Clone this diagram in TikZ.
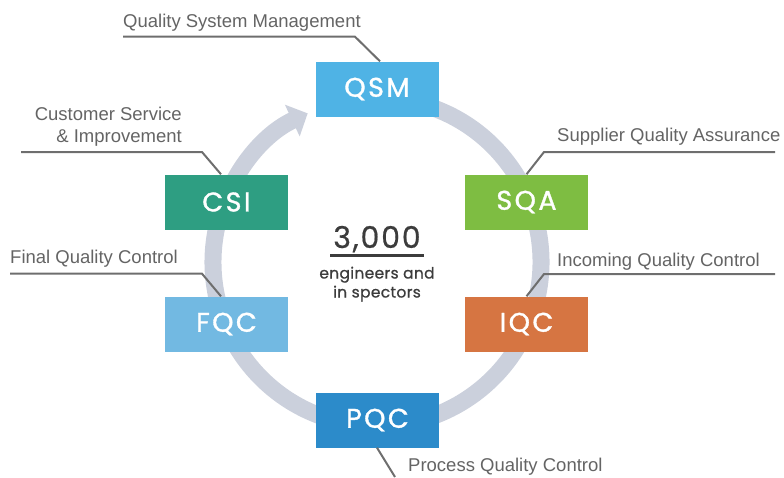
\documentclass[tikz,border=0pt]{standalone}
\usepackage{fontspec}
\setmainfont{Liberation Sans}
\newfontfamily\boxfont[LetterSpace=9,FakeBold=1.2]{Poppins}
\newfontfamily\numfont[LetterSpace=6,FakeBold=0.6]{Poppins}
\newfontfamily\subfont[LetterSpace=2,FakeBold=0.8]{Poppins}
\usetikzlibrary{arrows.meta}
\definecolor{cQSM}{HTML}{4FB3E5}
\definecolor{cCSI}{HTML}{2E9E82}
\definecolor{cSQA}{HTML}{7EBD42}
\definecolor{cIQC}{HTML}{D67542}
\definecolor{cFQC}{HTML}{72B9E2}
\definecolor{cPQC}{HTML}{2C8BCA}
\definecolor{ring}{HTML}{CBD0DC}
\definecolor{leader}{HTML}{6E6E6E}
\definecolor{labelgray}{HTML}{646464}
\definecolor{dark}{HTML}{3C3C3C}
\tikzset{
  box/.style={minimum width=123pt, minimum height=55pt, inner sep=0pt, text=white,
    font=\boxfont\fontsize{27}{27}\selectfont},
  leaderline/.style={draw=leader, line width=2pt},
  lbl/.style={text=labelgray, inner sep=0pt, font=\fontsize{18.5}{22}\selectfont},
  subtxt/.style={text=dark, inner sep=0pt, anchor=base, font=\subfont\fontsize{15.5}{19}\selectfont},
}
\begin{document}
\begin{tikzpicture}[x=1pt,y=-1pt]
\useasboundingbox (0,0) rectangle (784,477);
% ring with arrow
\draw[ring, line width=17pt, -{Triangle[width=34pt,length=17pt]}]
  ([shift={(80:164pt)}]377,262) arc[start angle=80, end angle=-245, radius=164pt];
% boxes
\node[box, fill=cQSM] (qsm) at (377,89) {QSM};
\node[box, fill=cCSI] (csi) at (226.5,202) {CSI};
\node[box, fill=cSQA] (sqa) at (526.5,202) {SQA};
\node[box, fill=cFQC] (fqc) at (226.5,324) {FQC};
\node[box, fill=cIQC] (iqc) at (526.5,324) {IQC};
\node[box, fill=cPQC] (pqc) at (377.5,420) {PQC};
% center text
\node[text=dark, inner sep=0pt, font=\numfont\fontsize{30}{30}\selectfont, anchor=base] (num) at (377,248) {3,000};
\draw[dark, line width=2.5pt] (330,255.5) -- (424,255.5);
\node[subtxt] (sub1) at (377,278.5) {engineers and};
\node[subtxt] (sub2) at (377,297.5) {in spectors};
% labels
\node[lbl, anchor=base west] (tqsm) at (123,27) {Quality System Management};
\node[lbl, anchor=base east] (tcsi1) at (182,120) {Customer Service};
\node[lbl, anchor=base east] (tcsi2) at (182,142) {\& Improvement};
\node[lbl, anchor=base west] (tfqc) at (10,263) {Final Quality Control};
\node[lbl, anchor=base west] (tsqa) at (557,141) {Supplier Quality Assurance};
\node[lbl, anchor=base west] (tiqc) at (557,266) {Incoming Quality Control};
\node[lbl, anchor=base west] (tpqc) at (408,471.5) {Process Quality Control};
% leader lines
\coordinate (eqsm) at (123,36.7);
\coordinate (ecsi) at (21,152);
\coordinate (efqc) at (10,273.7);
\coordinate (esqa) at (775,152);
\coordinate (eiqc) at (775,274);
\coordinate (epqc) at (395,477);
\draw[leaderline] ([xshift=3pt]qsm.north) -- (355,36.7) -- (eqsm);
\draw[leaderline] ([xshift=-5.5pt]csi.north) -- (202,152) -- (ecsi);
\draw[leaderline] ([xshift=-5.5pt]fqc.north) -- (202,273.7) -- (efqc);
\draw[leaderline] (sqa.north) -- (544,152) -- (esqa);
\draw[leaderline] (iqc.north) -- (544,274) -- (eiqc);
\draw[leaderline] ([xshift=-0.5pt]pqc.south) -- (epqc);
\end{tikzpicture}
\end{document}
